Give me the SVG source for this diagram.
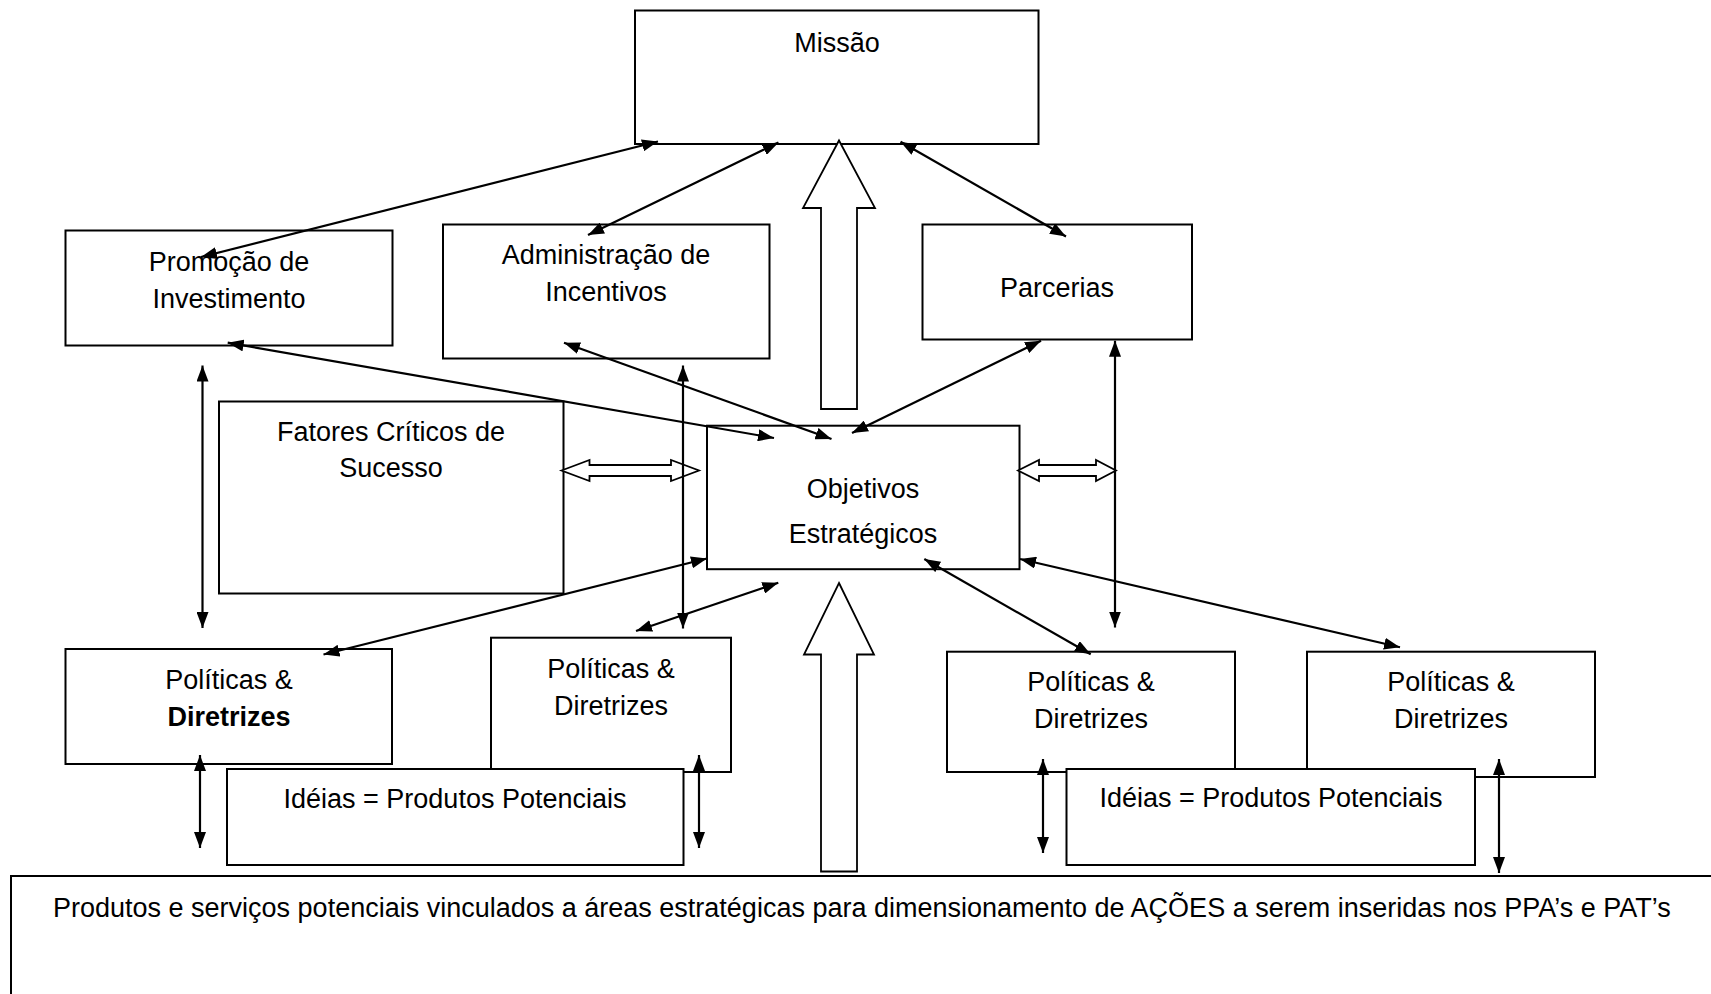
<svg xmlns="http://www.w3.org/2000/svg" width="1711" height="994" viewBox="0 0 1711 994">
<defs>
<style>
.box{fill:#fff;stroke:#000;stroke-width:2}
.t{font-family:"Liberation Sans",Arial,sans-serif;font-size:27px;fill:#000;text-anchor:middle}
.b{font-weight:bold}
.c{stroke:#000;stroke-width:2.2;fill:none;marker-start:url(#ah);marker-end:url(#ah)}
.h{fill:#fff;stroke:#000;stroke-width:1.8;stroke-linejoin:miter}
</style>
<marker id="ah" markerUnits="userSpaceOnUse" markerWidth="16" markerHeight="12" refX="16" refY="6" orient="auto-start-reverse" viewBox="0 0 16 12">
<path d="M0,0 L16,6 L0,12 z" fill="#000"/>
</marker>
</defs>
<rect width="1711" height="994" fill="#fff"/>

<g id="missao"><rect class="box" x="635" y="10.5" width="403.5" height="133.5"/><text class="t" x="837" y="51.5">Missão</text></g>
<g id="promocao"><rect class="box" x="65.5" y="230.5" width="327" height="115"/><text class="t" x="229" y="271">Promoção de</text><text class="t" x="229" y="307.7">Investimento</text></g>
<g id="administracao"><rect class="box" x="443" y="224.5" width="326.5" height="134"/><text class="t" x="606" y="264.3">Administração de</text><text class="t" x="606" y="301">Incentivos</text></g>
<g id="parcerias"><rect class="box" x="922.5" y="224.5" width="269.5" height="115"/><text class="t" x="1057" y="296.7">Parcerias</text></g>
<g id="fatores"><rect class="box" x="219" y="401.5" width="344.5" height="192"/><text class="t" x="391" y="440.7">Fatores Críticos de</text><text class="t" x="391" y="477.3">Sucesso</text></g>
<g id="objetivos"><rect class="box" x="707" y="425.7" width="312.5" height="143.5"/><text class="t" x="863" y="498.3">Objetivos</text><text class="t" x="863" y="543.3">Estratégicos</text></g>
<g id="politicas1"><rect class="box" x="65.5" y="649" width="326.5" height="115"/><text class="t" x="229" y="689.3">Políticas &amp;</text><text class="t b" x="229" y="726">Diretrizes</text></g>
<g id="politicas2"><rect class="box" x="491" y="637.7" width="240" height="134.3"/><text class="t" x="611" y="677.7">Políticas &amp;</text><text class="t" x="611" y="715">Diretrizes</text></g>
<g id="politicas3"><rect class="box" x="947" y="651.7" width="288" height="120.3"/><text class="t" x="1091" y="690.7">Políticas &amp;</text><text class="t" x="1091" y="728.3">Diretrizes</text></g>
<g id="politicas4"><rect class="box" x="1307" y="651.7" width="288" height="125.3"/><text class="t" x="1451" y="690.7">Políticas &amp;</text><text class="t" x="1451" y="728.3">Diretrizes</text></g>
<g id="ideias1"><rect class="box" x="227" y="769" width="456.5" height="96"/><text class="t" x="455" y="808.3">Idéias = Produtos Potenciais</text></g>
<g id="ideias2"><rect class="box" x="1066.5" y="769" width="408.5" height="96"/><text class="t" x="1271" y="807.3">Idéias = Produtos Potenciais</text></g>
<g id="produtos"><rect class="box" x="11" y="876" width="1720" height="140"/><text class="t" x="53" y="917" style="text-anchor:start">Produtos e serviços potenciais vinculados a áreas estratégicas para dimensionamento de AÇÕES a serem inseridas nos PPA’s e PAT’s</text></g>

<g id="connectors">
<path class="h" d="M839,140.5 L875,208 L857,208 L857,409 L821,409 L821,208 L803,208 Z"/>
<path class="h" d="M839,583 L874,654.5 L857,654.5 L857,871.5 L821,871.5 L821,654.5 L804,654.5 Z"/>
<path class="h" d="M561.5,470.5 L589.5,460 L589.5,465 L671,465 L671,460 L699,470.5 L671,481 L671,476 L589.5,476 L589.5,481 Z"/>
<path class="h" d="M1018,470.5 L1039,460 L1039,465 L1096,465 L1096,460 L1116,470.5 L1096,481 L1096,476 L1039,476 L1039,481 Z"/>
<line class="c" x1="201" y1="257" x2="658" y2="141.5"/>
<line class="c" x1="588" y1="235" x2="778.5" y2="142.5"/>
<line class="c" x1="1066" y1="236.5" x2="900.5" y2="141.7"/>
<line class="c" x1="227.7" y1="342.7" x2="774" y2="438"/>
<line class="c" x1="564" y1="342.7" x2="831.5" y2="439"/>
<line class="c" x1="1041" y1="340.7" x2="852" y2="433"/>
<line class="c" x1="202.5" y1="365.5" x2="202.5" y2="628"/>
<line class="c" x1="683" y1="365.5" x2="683" y2="628.5"/>
<line class="c" x1="1115" y1="340.7" x2="1115" y2="627.5"/>
<line class="c" x1="707" y1="558.5" x2="323.5" y2="654.5"/>
<line class="c" x1="778.3" y1="582.7" x2="636" y2="631"/>
<line class="c" x1="924.3" y1="559" x2="1090.7" y2="654.3"/>
<line class="c" x1="1020" y1="559" x2="1400" y2="647.3"/>
<line class="c" x1="200" y1="755" x2="200" y2="848"/>
<line class="c" x1="699" y1="755" x2="699" y2="848"/>
<line class="c" x1="1043" y1="759" x2="1043" y2="853"/>
<line class="c" x1="1499" y1="759" x2="1499" y2="873"/>
</g>
</svg>
